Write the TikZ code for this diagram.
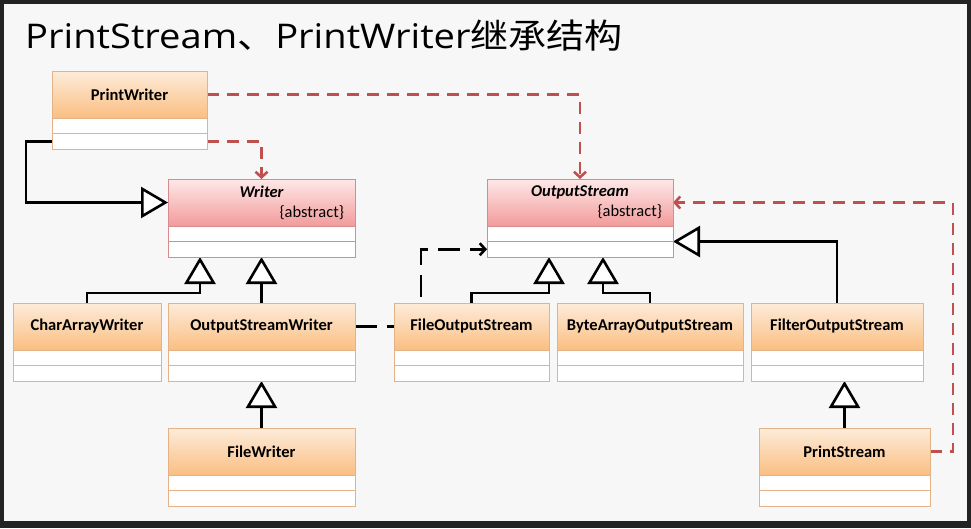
\documentclass[tikz,border=0pt]{standalone}
\usepackage{fontspec}
\setmainfont{Carlito}
\newfontfamily\cjk{Noto Sans CJK SC}
\newfontfamily\titlefont{Open Sans}
\usetikzlibrary{arrows.meta,shadows,fit,calc}
\pgfdeclarelayer{back}\pgfdeclarelayer{bg}
\pgfsetlayers{back,bg,main}
\definecolor{framec}{RGB}{35,35,35}
\definecolor{bgc}{RGB}{247,247,247}
\definecolor{otop}{RGB}{253,236,218}
\definecolor{obot}{RGB}{250,190,130}
\definecolor{obd}{RGB}{228,178,135}
\definecolor{ptop}{RGB}{254,232,232}
\definecolor{pbot}{RGB}{242,155,155}
\definecolor{pbd}{RGB}{214,140,140}
\definecolor{rd}{RGB}{192,80,77}
\tikzset{
  shd/.style={drop shadow={opacity=0.22, shadow xshift=1.3pt, shadow yshift=-1.3pt}},
  hdr/.style={shd, draw=obd, top color=otop, bottom color=obot, line width=0.8pt,
    inner sep=0pt, outer sep=0pt, minimum height=47pt, anchor=north west,
    font=\bfseries\fontsize{16.5}{19}\selectfont},
  ahdr/.style={hdr, draw=pbd, top color=ptop, bottom color=pbot},
  sec/.style={shd, draw=obd, fill=white, line width=0.8pt, inner sep=0pt, outer sep=0pt,
    minimum height=15.5pt, anchor=north west},
  asec/.style={sec, draw=pbd},
  whole/.style={inner sep=0pt, outer sep=0pt},
  inh/.style={black, line width=2.8pt, line join=miter,
    -{Triangle[fill=white, length=27pt, width=31pt, line width=2.6pt]}},
  rdash/.style={draw=rd, line width=2.6pt, dash pattern=on 12pt off 8pt,
    -{Straight Barb[length=5.5pt, width=12pt, line width=2.6pt]}},
  bdash/.style={draw=black, line width=2.8pt, dash pattern=on 22pt off 10pt,
    -{Straight Barb[length=5.5pt, width=12pt, line width=2.6pt]}},
}
\newcommand\umlbox[6]{%
  \node[#6hdr, minimum width=#4pt] (#1-h) at (#2,#3) {#5};
  \node[#6sec, minimum width=#4pt] (#1-a) at (#1-h.south west) {};
  \node[#6sec, minimum width=#4pt] (#1-b) at (#1-a.south west) {};
  \node[whole, fit=(#1-h)(#1-b)] (#1) {};
}
\newcommand\abslabel[2]{\parbox{\dimexpr#2pt-22pt\relax}{\baselineskip=20pt
  \centering{\bfseries\itshape #1}\par\raggedleft\mdseries\upshape\{abstract\}\par}}
\begin{document}
\begin{tikzpicture}[x=1pt,y=-1pt]
\useasboundingbox (0,0) rectangle (971,528);
\begin{pgfonlayer}{back}
  \fill[framec] (0,0) rectangle (971,528);
  \fill[bgc] (4,4) rectangle (967,521);
\end{pgfonlayer}
\node[anchor=base west, inner sep=0pt, font=\fontsize{34}{40}\selectfont] (title) at (25,48)
  {\scalebox{1.12}[1]{\titlefont PrintStream\cjk 、\titlefont PrintWriter\cjk 继承结构}};

\umlbox{pw}{52}{71}{155}{PrintWriter}{}
\umlbox{writer}{168}{179}{187}{\abslabel{Writer}{187}}{a}
\umlbox{os}{487}{179}{186}{\abslabel{OutputStream}{186}}{a}
\umlbox{caw}{13}{303}{148}{CharArrayWriter}{}
\umlbox{osw}{168}{303}{187}{OutputStreamWriter}{}
\umlbox{fos}{394}{303}{155}{FileOutputStream}{}
\umlbox{baos}{557}{303}{186}{ByteArrayOutputStream}{}
\umlbox{fis}{751}{303}{172}{FilterOutputStream}{}
\umlbox{fw}{168}{428}{187}{FileWriter}{}
\umlbox{ps}{759}{428}{171}{PrintStream}{}

\begin{pgfonlayer}{bg}
  \draw[rdash] (pw-h.east) -| (os.north);
  \draw[rdash] (pw-b.east) -| (writer.north);
  \draw[inh] (pw-b.west) -- ++(-26,0) |- (writer-h.west);
  \draw[inh] (caw.north) -- ++(0,-10) -| ([xshift=-61.5pt]writer.south);
  \draw[inh] (osw.north) -- (writer.south);
  \draw[inh] (fw.north) -- (osw.south);
  \draw[inh] (fos.north) -- ++(0,-10) -| ([xshift=-31pt]os.south);
  \draw[inh] (baos.north) -- ++(0,-10) -| ([xshift=23pt]os.south);
  \draw[inh] (fis.north) |- (os-a.south east);
  \draw[inh] (ps.north) -- (ps.north |- fis.south);
  \draw[rdash] (ps-h.east) -- ++(23,0) |- (os-h.east);
  \draw[bdash] (osw-h.east) -| ([xshift=-66pt]os-b.west) -- (os-b.west);
\end{pgfonlayer}
\end{tikzpicture}
\end{document}
